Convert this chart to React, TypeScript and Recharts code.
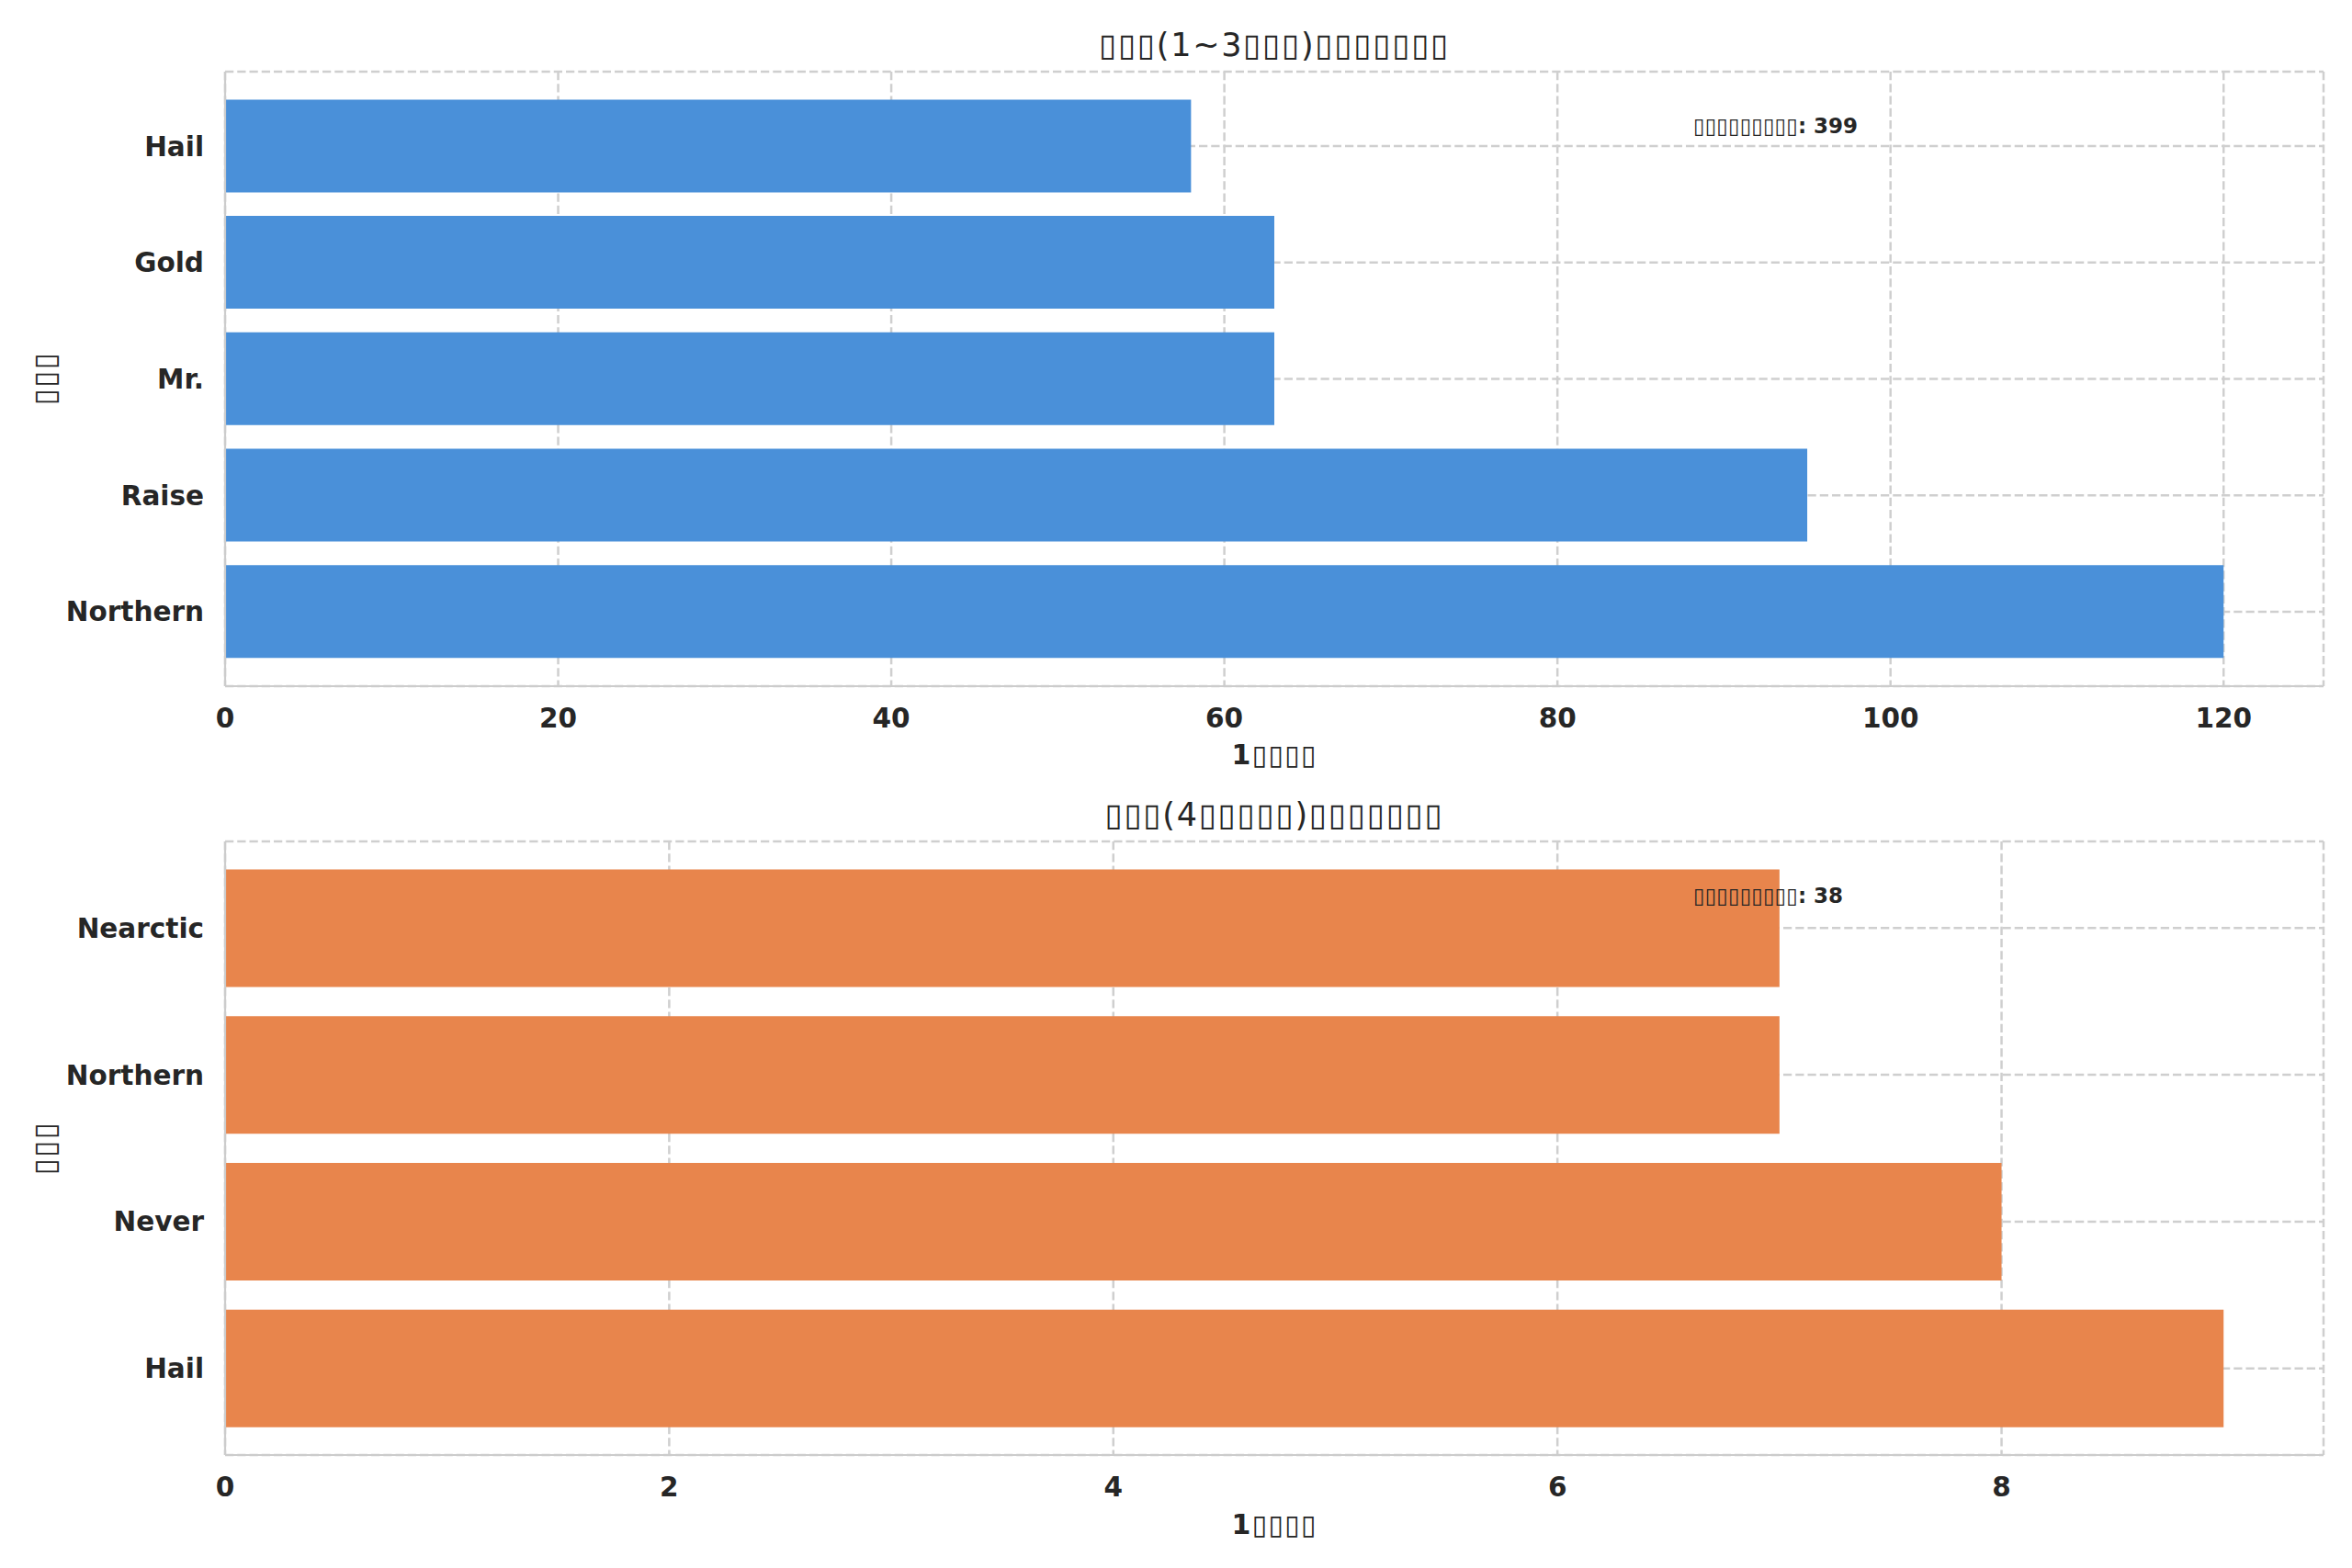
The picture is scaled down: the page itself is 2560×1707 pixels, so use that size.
import React from 'react';
import { BarChart, Bar, XAxis, YAxis, CartesianGrid } from 'recharts';

const topCategories = ['Hail', 'Gold', 'Mr.', 'Raise', 'Northern'];
const topCounts = [58, 63, 63, 95, 120];
const topTicks = [0, 20, 40, 60, 80, 100, 120];
const topTotal = 399;

const bottomCategories = ['Nearctic', 'Northern', 'Never', 'Hail'];
const bottomCounts = [7, 7, 8, 9];
const bottomTicks = [0, 2, 4, 6, 8];
const bottomTotal = 38;

const topTitle = '▯▯▯(1~3▯▯▯)▯▯▯▯▯▯▯';
const bottomTitle = '▯▯▯(4▯▯▯▯▯)▯▯▯▯▯▯▯';
const xLabel = '1▯▯▯▯';
const yLabel = '▯▯▯';
const noteLabel = '▯▯▯▯▯▯▯▯▯';

const topData = topCategories.map((name, i) => ({ name, value: topCounts[i] }));
const bottomData = bottomCategories.map((name, i) => ({ name, value: bottomCounts[i] }));

const FONT = '"DejaVu Sans", sans-serif';
const TEXT = '#262626';
const SPINE = '#cccccc';

const tickStyle = { fontFamily: FONT, fontWeight: 700, fontSize: 29.5, fill: TEXT };

function Panel(props: {
  data: { name: string; value: number }[];
  ticks: number[];
  domainMax: number;
  color: string;
  height: number;
  marginTop: number;
  xAxisHeight: number;
  pad: number;
}) {
  const { data, ticks, domainMax, color, height, marginTop, xAxisHeight, pad } = props;
  return (
    <BarChart
      width={2560}
      height={height}
      data={data}
      layout="vertical"
      margin={{ top: marginTop, right: 31, bottom: 0, left: 0 }}
      barCategoryGap="10%"
    >
      <CartesianGrid
        stroke="#cfcfcf"
        strokeWidth={2.5}
        strokeDasharray="9.25 4"
        horizontal={true}
        vertical={true}
      />
      <XAxis
        type="number"
        domain={[0, domainMax]}
        ticks={ticks}
        allowDataOverflow
        height={xAxisHeight}
        tickLine={false}
        tickSize={6}
        tickMargin={18}
        axisLine={{ stroke: SPINE, strokeWidth: 2.2 }}
        tick={tickStyle}
        interval={0}
      />
      <XAxis
        xAxisId="top"
        orientation="top"
        type="number"
        domain={[0, domainMax]}
        allowDataOverflow
        height={0}
        tick={false}
        tickLine={false}
        axisLine={{ stroke: SPINE, strokeWidth: 2.2 }}
      />
      <YAxis
        type="category"
        dataKey="name"
        width={245}
        padding={{ top: pad, bottom: pad }}
        tickLine={false}
        tickSize={6}
        tickMargin={17}
        axisLine={{ stroke: SPINE, strokeWidth: 2.2 }}
        tick={tickStyle}
        interval={0}
      />
      <YAxis
        yAxisId="right"
        orientation="right"
        type="category"
        dataKey="name"
        width={0}
        padding={{ top: pad, bottom: pad }}
        tick={false}
        tickLine={false}
        axisLine={{ stroke: SPINE, strokeWidth: 2.2 }}
      />
      <Bar dataKey="value" fill={color} isAnimationActive={false} />
    </BarChart>
  );
}

export default function App() {
  const textBase = { fontFamily: FONT, fill: TEXT };
  return (
    <div style={{ position: 'absolute', left: 0, top: 0, width: 2560, height: 1707, background: '#ffffff' }}>
      <div style={{ position: 'absolute', left: 0, top: 0 }}>
        <Panel
          data={topData}
          ticks={topTicks}
          domainMax={126}
          color="#4a90d9"
          height={853}
          marginTop={78}
          xAxisHeight={106}
          pad={17.75}
        />
      </div>
      <div style={{ position: 'absolute', left: 0, top: 853 }}>
        <Panel
          data={bottomData}
          ticks={bottomTicks}
          domainMax={9.45}
          color="#e8854c"
          height={854}
          marginTop={63}
          xAxisHeight={123}
          pad={14.4}
        />
      </div>
      <svg
        width={2560}
        height={1707}
        style={{ position: 'absolute', left: 0, top: 0, pointerEvents: 'none' }}
      >
        <text x={1387} y={61} textAnchor="middle" fontSize={35} letterSpacing={1.7} {...textBase}>{topTitle}</text>
        <text x={1387} y={899} textAnchor="middle" fontSize={35} letterSpacing={1.7} {...textBase}>{bottomTitle}</text>
        <text x={1387} y={832} textAnchor="middle" fontSize={30} fontWeight={700} letterSpacing={1.2} {...textBase}>{xLabel}</text>
        <text x={1387} y={1670} textAnchor="middle" fontSize={30} fontWeight={700} letterSpacing={1.2} {...textBase}>{xLabel}</text>
        <text x={60} y={412} textAnchor="middle" fontSize={33} fontWeight={700} letterSpacing={1.3} transform="rotate(-90 60 412)" {...textBase}>{yLabel}</text>
        <text x={60} y={1250} textAnchor="middle" fontSize={33} fontWeight={700} letterSpacing={1.3} transform="rotate(-90 60 1250)" {...textBase}>{yLabel}</text>
        <text x={1843} y={145} fontSize={23} fontWeight={700} {...textBase}>{`${noteLabel}: ${topTotal}`}</text>
        <text x={1843} y={983} fontSize={23} fontWeight={700} {...textBase}>{`${noteLabel}: ${bottomTotal}`}</text>
      </svg>
    </div>
  );
}
